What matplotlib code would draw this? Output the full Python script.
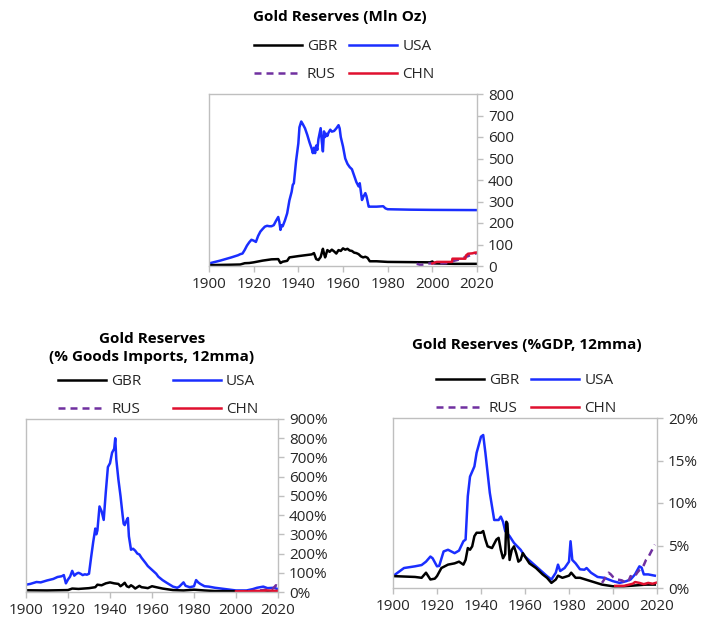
import numpy as np
import matplotlib
matplotlib.use("Agg")
import matplotlib.pyplot as plt

plt.rcParams['font.family'] = ['Open Sans', 'DejaVu Sans']

# ---------------- data ----------------
# Gold reserves, million ounces
usa_oz_years = [1900, 1905, 1910, 1913, 1914, 1915, 1916, 1917, 1918, 1919, 1920, 1921, 1922, 1923, 1924,
                1925, 1926, 1927, 1928, 1929, 1930, 1931, 1931.5, 1932, 1932.5, 1933, 1934, 1935, 1936,
                1937, 1937.5, 1938, 1939, 1940, 1940.5, 1941.3, 1942, 1943, 1944, 1945, 1946, 1946.5,
                1947, 1947.5, 1948, 1948.5, 1949, 1950, 1950.5, 1951, 1951.5, 1952, 1952.5, 1953, 1953.5,
                1954.3, 1955, 1956, 1957, 1958, 1958.5, 1959, 1960, 1961, 1962, 1963, 1964, 1965, 1966,
                1967, 1967.5, 1968.5, 1969, 1970, 1970.5, 1971.5, 1972, 1975, 1978, 1979, 1980, 1990,
                2000, 2020]
usa_oz = [12, 25, 40, 50, 55, 58, 75, 95, 110, 122, 118, 112, 140, 160, 172,
          183, 187, 185, 185, 190, 210, 228, 205, 168, 190, 185, 212, 245, 305,
          345, 377, 385, 490, 570, 645, 672, 660, 640, 610, 575, 545, 525,
          550, 525, 560, 540, 590, 641, 580, 533, 626, 600, 615, 605, 620,
          634, 625, 628, 640, 655, 640, 600, 556, 500, 475, 460, 450, 420, 390,
          370, 385, 307, 320, 339, 325, 276, 276, 276, 278, 268, 264, 262,
          261, 260]

gbr_oz_years = [1900, 1910, 1914, 1916, 1918, 1920, 1924, 1928, 1931, 1932, 1933, 1935, 1936, 1940, 1943,
                1946, 1947, 1948, 1949, 1950, 1951, 1951.5, 1952, 1953, 1954, 1955, 1956, 1957, 1958,
                1959, 1960, 1961, 1962, 1963, 1964, 1965, 1966, 1967, 1968, 1969, 1970, 1971, 1972,
                1975, 1980, 1990, 1999, 2000, 2001, 2010, 2020]
gbr_oz = [4, 6, 7, 13, 14, 17, 25, 31, 32, 14, 20, 24, 40, 46, 50,
          54, 60, 32, 28, 42, 80, 58, 40, 74, 66, 76, 68, 58, 74,
          70, 82, 76, 80, 72, 70, 62, 60, 55, 45, 40, 43, 38, 22,
          22, 19, 18, 17, 21, 12, 10, 10]

rus_oz_years = [1993, 1995, 1996, 1998, 2000, 2006, 2008, 2010, 2012, 2014, 2016, 2018, 2020]
rus_oz = [10, 4, 8, 12, 12, 13, 17, 25, 30, 38, 46, 55, 60]

chn_oz_years = [2000, 2001, 2002, 2008.8, 2009, 2014.8, 2015, 2016, 2018, 2019, 2020]
chn_oz = [12, 16, 19, 19, 34, 34, 48, 57, 59, 62, 63]

# Gold reserves, % of goods imports (12mma)
usa_imp_years = [1900, 1902, 1905, 1907, 1910, 1913, 1915, 1917, 1918, 1919, 1920, 1921, 1922, 1923, 1924,
                 1925, 1926, 1927, 1928, 1929, 1930, 1931, 1932, 1933, 1933.5, 1934, 1935, 1936, 1937,
                 1938, 1939, 1940, 1941, 1942, 1942.5, 1943, 1944, 1945, 1946, 1946.5, 1947, 1948,
                 1948.5, 1949, 1950, 1951, 1952, 1953, 1954, 1955, 1957, 1958, 1960, 1962, 1963, 1965,
                 1967, 1970, 1972, 1973, 1975, 1976, 1978, 1980, 1981, 1982, 1983, 1985, 1987, 1990,
                 1995, 2000, 2005, 2008, 2010, 2013, 2015, 2018, 2020]
usa_imp = [38, 42, 52, 50, 60, 68, 78, 82, 88, 45, 65, 80, 110, 85, 95,
           100, 95, 88, 92, 90, 95, 180, 260, 330, 300, 320, 445, 420, 375,
           520, 650, 670, 725, 745, 800, 690, 585, 500, 400, 355, 348, 375,
           385, 290, 220, 225, 215, 200, 195, 178, 150, 135, 115, 95, 80, 62,
           48, 28, 22, 28, 50, 32, 25, 30, 62, 50, 42, 30, 28, 22,
           15, 8, 8, 15, 22, 28, 20, 22, 15]

gbr_imp_years = [1900, 1910, 1920, 1922, 1925, 1930, 1933, 1934, 1936, 1938, 1940, 1942, 1944, 1945, 1946,
                 1947, 1948, 1949, 1950, 1951, 1952, 1953, 1954, 1955, 1957, 1958, 1960, 1962, 1965,
                 1970, 1975, 1980, 1985, 1990, 2000, 2020]
gbr_imp = [9, 8, 10, 18, 16, 20, 25, 38, 35, 45, 50, 45, 42, 30, 38,
           48, 30, 25, 35, 28, 18, 25, 32, 25, 22, 20, 30, 25, 18,
           10, 8, 12, 8, 5, 4, 4]

rus_imp_years = [2000, 2005, 2010, 2014, 2016, 2017, 2018, 2019, 2020]
rus_imp = [4, 3, 6, 12, 18, 14, 22, 35, 30]

chn_imp_years = [2000, 2003, 2006, 2009, 2012, 2015, 2018, 2020]
chn_imp = [3, 4, 3, 6, 5, 8, 6, 6]

# Gold reserves, % of GDP (12mma)
usa_gdp_years = [1900, 1905, 1910, 1913, 1915, 1917, 1918, 1920, 1921, 1923, 1925, 1928, 1930, 1932, 1933,
                 1934, 1935, 1937, 1938, 1940, 1941, 1942, 1944, 1946, 1948, 1949, 1950, 1951, 1953,
                 1955, 1958, 1960, 1965, 1970, 1972, 1974, 1975, 1976, 1978, 1980, 1980.7, 1981.5,
                 1983, 1985, 1987, 1988, 1990, 1993, 1996, 2000, 2003, 2006, 2008, 2010, 2012, 2013,
                 2014, 2016, 2019]
usa_gdp = [1.4, 2.35, 2.55, 2.7, 3.1, 3.7, 3.5, 2.55, 2.6, 4.3, 4.5, 4.1, 4.4, 5.5, 5.7,
           10.8, 13.1, 14.3, 15.9, 17.8, 18.0, 15.9, 11.2, 8.0, 8.0, 8.4, 7.8, 6.7, 6.1,
           5.3, 4.5, 3.7, 2.55, 1.4, 1.0, 1.8, 2.75, 2.0, 2.35, 3.1, 5.5, 3.3,
           2.9, 2.2, 2.15, 2.35, 1.8, 1.3, 1.2, 0.8, 0.6, 0.8, 1.0, 1.6, 2.55, 2.4,
           1.6, 1.6, 1.45]

gbr_gdp_years = [1900, 1905, 1910, 1913, 1915, 1917, 1919, 1920, 1922, 1925, 1928, 1930, 1932, 1933, 1934,
                 1935, 1936, 1937, 1938, 1940, 1941, 1942, 1943, 1945, 1947, 1948, 1949, 1950, 1951,
                 1951.5, 1952, 1953, 1954, 1955, 1956, 1957, 1958, 1959, 1960, 1962, 1965, 1968, 1970,
                 1972, 1974, 1975, 1977, 1980, 1981, 1983, 1985, 1990, 1995, 2000, 2005, 2010, 2015, 2019]
gbr_gdp = [1.4, 1.35, 1.3, 1.2, 1.8, 1.0, 1.1, 1.4, 2.35, 2.75, 2.9, 3.1, 2.75, 3.3, 4.7,
           4.5, 4.9, 6.1, 6.5, 6.5, 6.7, 5.7, 4.9, 4.7, 5.7, 5.9, 4.5, 3.5, 4.0,
           7.8, 7.6, 3.3, 4.5, 4.9, 4.1, 3.1, 3.3, 4.1, 3.7, 2.9, 2.35, 1.6, 1.2,
           0.6, 1.0, 1.45, 1.2, 1.45, 1.8, 1.2, 1.2, 0.8, 0.4, 0.2, 0.2, 0.3, 0.4, 0.4]

rus_gdp_years = [1995, 1996, 1998, 1999, 2000, 2002, 2004, 2006, 2007, 2008, 2009, 2010, 2011, 2012,
                 2013, 2014, 2015, 2016, 2017, 2018, 2019]
rus_gdp = [0.6, 1.0, 1.8, 1.6, 1.3, 1.0, 0.9, 0.6, 0.8, 1.4, 1.2, 1.4, 1.8, 2.1,
           2.3, 2.7, 3.3, 3.6, 4.1, 4.6, 5.1]

chn_gdp_years = [2001, 2005, 2009, 2010, 2012, 2014, 2016, 2018, 2020]
chn_gdp = [0.25, 0.25, 0.5, 0.7, 0.6, 0.45, 0.6, 0.5, 0.65]

x_ticks = [1900, 1920, 1940, 1960, 1980, 2000, 2020]

# ---------------- style ----------------
c_gbr = '#000000'
c_usa = '#1a2eff'
c_rus = '#7030a0'
c_chn = '#e0102f'
c_frame = '#bfbfbf'
c_text = '#262626'
lw = 1.8
fs = 11


def draw_panel(ax, series, yticks, ylabels, legend_x, legend_y, colspace):
    handles = {}
    for name, xs, ys, col, ls in series:
        h, = ax.plot(xs, ys, color=col, lw=lw, solid_joinstyle='round')
        if ls == '--':
            h.set_dashes((2.8, 2.0))
        handles[name] = h
    ax.set_xlim(1900, 2020)
    ax.set_ylim(yticks[0], yticks[-1])
    ax.set_xticks(x_ticks)
    ax.set_yticks(yticks)
    ax.set_yticklabels(ylabels)
    ax.yaxis.tick_right()
    for sp in ax.spines.values():
        sp.set_color(c_frame)
        sp.set_linewidth(1.0)
    ax.tick_params(axis='both', colors=c_frame, labelcolor=c_text, labelsize=fs,
                   length=4, width=1.0, direction='out')
    ax.tick_params(axis='y', pad=4)
    ax.tick_params(axis='x', pad=4)
    order = ['GBR', 'RUS', 'USA', 'CHN']
    ax.legend([handles[k] for k in order], order, ncol=2, loc='lower center',
              bbox_to_anchor=(legend_x, legend_y), frameon=False, fontsize=fs,
              handlelength=3.1, handletextpad=0.35, columnspacing=colspace,
              labelspacing=0.85, labelcolor=c_text, borderaxespad=0, borderpad=0)


fig = plt.figure(figsize=(7.02, 6.17), dpi=100)

ax1 = fig.add_axes([209 / 702, 1 - 266 / 617, 268 / 702, 172 / 617])
draw_panel(ax1,
           [('USA', usa_oz_years, usa_oz, c_usa, '-'),
            ('GBR', gbr_oz_years, gbr_oz, c_gbr, '-'),
            ('RUS', rus_oz_years, rus_oz, c_rus, '--'),
            ('CHN', chn_oz_years, chn_oz, c_chn, '-')],
           [0, 100, 200, 300, 400, 500, 600, 700, 800],
           ['0', '100', '200', '300', '400', '500', '600', '700', '800'],
           0.505, 1.07, 0.8)
fig.text(340 / 702, 1 - 17 / 617, 'Gold Reserves (Mln Oz)', ha='center', va='center',
         fontsize=fs, fontweight='bold', color='#000000')

ax2 = fig.add_axes([26 / 702, 1 - 592 / 617, 252 / 702, 173 / 617])
draw_panel(ax2,
           [('USA', usa_imp_years, usa_imp, c_usa, '-'),
            ('GBR', gbr_imp_years, gbr_imp, c_gbr, '-'),
            ('RUS', rus_imp_years, rus_imp, c_rus, '--'),
            ('CHN', chn_imp_years, chn_imp, c_chn, '-')],
           [0, 100, 200, 300, 400, 500, 600, 700, 800, 900],
           ['0%', '100%', '200%', '300%', '400%', '500%', '600%', '700%', '800%', '900%'],
           0.525, 1.01, 2.1)
fig.text(152 / 702, 1 - 348 / 617, 'Gold Reserves\n(% Goods Imports, 12mma)', ha='center', va='center',
         fontsize=fs, fontweight='bold', color='#000000', linespacing=1.45)

ax3 = fig.add_axes([393 / 702, 1 - 588 / 617, 264 / 702, 170 / 617])
draw_panel(ax3,
           [('USA', usa_gdp_years, usa_gdp, c_usa, '-'),
            ('GBR', gbr_gdp_years, gbr_gdp, c_gbr, '-'),
            ('RUS', rus_gdp_years, rus_gdp, c_rus, '--'),
            ('CHN', chn_gdp_years, chn_gdp, c_chn, '-')],
           [0, 5, 10, 15, 20],
           ['0%', '5%', '10%', '15%', '20%'],
           0.505, 1.01, 0.8)
fig.text(527 / 702, 1 - 345 / 617, 'Gold Reserves (%GDP, 12mma)', ha='center', va='center',
         fontsize=fs, fontweight='bold', color='#000000')

fig.savefig('out.png', dpi=100)
